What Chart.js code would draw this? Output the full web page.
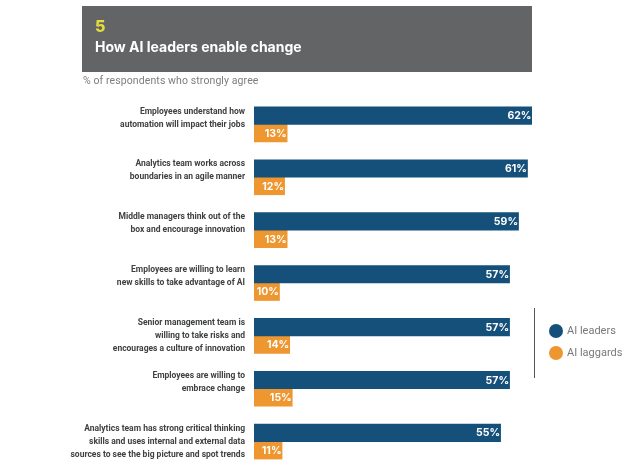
<!DOCTYPE html>
<html>
<head>
<meta charset="utf-8">
<script src="https://cdn.jsdelivr.net/npm/chart.js@4"></script>
<style>
  html, body { margin: 0; padding: 0; background: #fff; }
  #wrap { position: relative; width: 638px; height: 476px; overflow: hidden; }
  #myGraph { position: absolute; left: 0; top: 0; }
  #head { position: absolute; left: 82px; top: 6px; width: 450px; height: 66px; background: #636466; }
  #num { position: absolute; left: 13px; top: 10px; font: 800 16px Inter, sans-serif; color: #e4dc3c; }
  #title { position: absolute; left: 13px; top: 32px; font: bold 14px Inter, sans-serif; color: #fff; white-space: nowrap; }
  #sub { position: absolute; left: 83px; top: 74px; font: 10.5px Roboto, sans-serif; letter-spacing: 0.1px; color: #7d7d7f; white-space: nowrap; }
  #rule { position: absolute; left: 534px; top: 308px; width: 1px; height: 70px; background: #55565a; }
  .key { position: absolute; left: 549px; height: 14px; white-space: nowrap; font: 11px Roboto, sans-serif; color: #77787b; line-height: 14px; padding-left: 18px; }
  .key i { position: absolute; left: 0; top: 0; width: 14px; height: 14px; border-radius: 50%; }
</style>
</head>
<body>
<div id="wrap">
  <canvas id="myGraph" width="638" height="476"></canvas>
  <div id="head"><div id="num">5</div><div id="title">How AI leaders enable change</div></div>
  <div id="sub">% of respondents who strongly agree</div>
  <div id="rule"></div>
  <div id="legend"></div>
</div>
<script>
const categories = [
  ["Employees understand how", "automation will impact their jobs"],
  ["Analytics team works across", "boundaries in an agile manner"],
  ["Middle managers think out of the", "box and encourage innovation"],
  ["Employees are willing to learn", "new skills to take advantage of AI"],
  ["Senior management team is", "willing to take risks and", "encourages a culture of innovation"],
  ["Employees are willing to", "embrace change"],
  ["Analytics team has strong critical thinking", "skills and uses internal and external data", "sources to see the big picture and spot trends"]
];
const leaders = [62, 61, 59, 57, 57, 57, 55];
const laggards = [13, 12, 13, 10, 14, 15, 11];
const seriesNames = ["AI leaders", "AI laggards"];
const seriesColors = ["#15507a", "#ee9630"];

// white % label sits inside the end of each bar
const endLabels = {
  id: "endLabels",
  afterDatasetsDraw(chart) {
    const ctx = chart.ctx;
    ctx.save();
    ctx.fillStyle = "#fff";
    ctx.font = "bold 10.5px Inter, sans-serif";
    ctx.textAlign = "right";
    ctx.textBaseline = "middle";
    chart.data.datasets.forEach((ds, i) => {
      chart.getDatasetMeta(i).data.forEach((bar, j) => {
        ctx.fillText(ds.data[j] + "%", bar.x - 0.5, bar.y + 0.5);
      });
    });
    ctx.restore();
  }
};

// legend is plain html, placed right of the rule
seriesNames.forEach((name, i) => {
  const key = document.createElement("div");
  key.className = "key";
  key.style.top = (324 + i * 22) + "px";
  key.innerHTML = '<i style="background:' + seriesColors[i] + '"></i>' + name;
  document.getElementById("legend").appendChild(key);
});

new Chart(document.getElementById("myGraph"), {
  type: "bar",
  data: {
    labels: categories,
    datasets: [
      { label: seriesNames[0], data: leaders, backgroundColor: seriesColors[0], xAxisID: "x", barThickness: 17.5 },
      { label: seriesNames[1], data: laggards, backgroundColor: seriesColors[1], xAxisID: "x2", barThickness: 17.5 }
    ]
  },
  plugins: [endLabels],
  options: {
    indexAxis: "y",
    responsive: false,
    animation: false,
    layout: { padding: { left: 0, right: 106, top: 98, bottom: 8 } },
    plugins: { legend: { display: false }, tooltip: { enabled: false } },
    scales: {
      x: { display: false, min: 0, max: 62 },
      // the original draws laggards on a shorter scale than leaders
      x2: { display: false, min: 0, max: 109 },
      y: {
        position: "left",
        afterFit(axis) {
          // fixed gutter for the labels, no extra room for the tall first and last ones
          axis.width = 254;
          axis.paddingTop = 0;
          axis.paddingBottom = 0;
        },
        grid: { display: false, drawTicks: false },
        border: { display: false },
        ticks: {
          padding: 9,
          autoSkip: false,
          color: "#3f4042",
          font: { family: "Roboto, sans-serif", size: 8.5, weight: "bold", lineHeight: 1.53 },
          // labels start level with the top of the bar, so short ones get a blank last line
          callback(value) {
            const lines = categories[value].slice();
            while (lines.length < 3) lines.push("");
            return lines;
          }
        }
      }
    }
  }
});
</script>
</body>
</html>
